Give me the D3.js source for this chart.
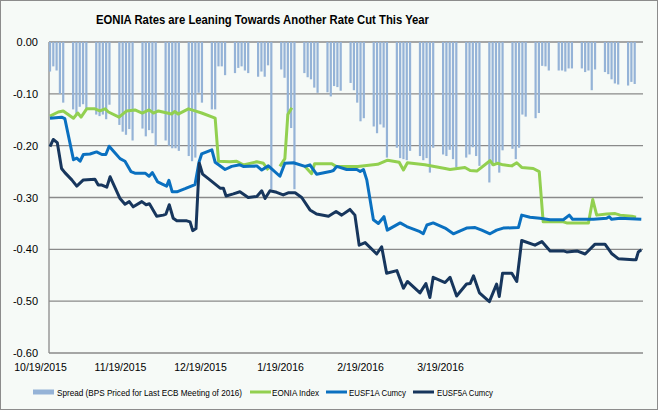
<!DOCTYPE html>
<html><head><meta charset="utf-8">
<script src="https://cdn.jsdelivr.net/npm/d3@7"></script>
<style>body{margin:0;background:#fff}svg{display:block}</style>
</head><body><svg id="c" width="658" height="410"></svg>
<script>
const chartTitle = "EONIA Rates are Leaning Towards Another Rate Cut This Year";
const xTickLabels = ["10/19/2015","11/19/2015","12/19/2015","1/19/2016","2/19/2016","3/19/2016"];
const yTicks = [0, -0.1, -0.2, -0.3, -0.4, -0.5, -0.6];
const legendNames = ["Spread (BPS Priced for Last ECB Meeting of 2016)", "EONIA Index", "EUSF1A Cumcy", "EUSF5A Cumcy"];

// Spread bars: one row per week (Mon..Fri), starting Monday 10/19/2015
const spreadWeeks = [
  [-0.057,-0.047,-0.055,-0.100,-0.117],
  [-0.130,-0.140,-0.125,-0.120,-0.128],
  [-0.140,-0.143,-0.140,-0.149,-0.121],
  [-0.160,-0.173,-0.179,-0.168,-0.190],
  [-0.167,-0.182,-0.170,-0.176,-0.200],
  [-0.190,-0.200,-0.205,-0.205,-0.210],
  [-0.220,-0.230,-0.223,-0.098,-0.117],
  [-0.130,-0.130,-0.047,-0.047,-0.064],
  [-0.060,-0.050,-0.047,-0.055,-0.060],
  [-0.067,-0.057,-0.067,-0.045,-0.284],
  [-0.053,-0.069,-0.150,-0.166,-0.284],
  [-0.060,-0.068,-0.072,-0.088,-0.098],
  [-0.097,-0.105,-0.085,-0.087,-0.094],
  [-0.079,-0.093,-0.117,-0.153,-0.147],
  [-0.163,-0.176,-0.159,-0.165,-0.223],
  [-0.204,-0.224,-0.226,-0.228,-0.210],
  [-0.220,-0.228,-0.224,-0.252,-0.204],
  [-0.217,-0.220,-0.208,-0.226,-0.242],
  [-0.223,-0.217,-0.203,-0.220,-0.239],
  [-0.271,-0.239,-0.233,-0.252,-0.209],
  [-0.206,-0.226,-0.204,-0.140,-0.144],
  [-0.147,-0.137,-0.046,-0.047,-0.055],
  [-0.055,-0.055,-0.057,-0.051,-0.051],
  [-0.051,-0.058,-0.055,-0.093,-0.053],
  [-0.058,-0.062,-0.072,-0.080,-0.082],
  [-0.084,-0.077,-0.081]
];

// Lines: day offset from 10/19/2015 and value
const eoniaDays = [0,2.5,4,7.1,8.4,9.4,11.1,13.6,15.1,16.7,17.7,20.9,23.2,25.7,27.9,30,31.3,32.8,36.8,37.8,38.8,41.9,43.9,45.9,50,51,54.5,56.5,58.5,62.6,64.6,66.1,67,69.6,71.1,72,73.2,74,77.2,79.2,80.1,85.3,86.6,93.2,99.2,102.2,105.7,107,108.2,113.5,119.6,121.1,125.6,127.2,129.2,133.2,134.2,135.4,137.2,139.8,141.3,142.8,146.3,148.1,149.3,155.4,156.4,163,164.3,165.5,168.5,171.1,172.6,176.1,177.4];
const eoniaVals = [-0.143,-0.135,-0.133,-0.147,-0.137,-0.145,-0.129,-0.129,-0.133,-0.129,-0.135,-0.145,-0.133,-0.131,-0.137,-0.131,-0.137,-0.133,-0.139,-0.134,-0.139,-0.129,-0.133,-0.137,-0.147,-0.230,-0.231,-0.230,-0.237,-0.231,-0.234,-0.247,null,-0.240,-0.225,-0.140,-0.127,null,-0.240,-0.254,-0.235,-0.235,-0.240,-0.240,-0.236,-0.228,-0.232,-0.247,-0.233,-0.237,-0.244,-0.246,-0.242,-0.248,-0.249,-0.229,-0.237,-0.234,-0.237,-0.239,-0.233,-0.242,-0.244,-0.250,-0.347,-0.347,-0.349,-0.349,-0.304,-0.334,-0.332,-0.331,-0.334,-0.336,-0.338];

const eusf1aDays = [0,3.5,4.5,7.1,8.1,9.1,10.1,12.1,14.1,15.7,16.9,17.9,19.7,21.2,22.7,24.5,25.7,28.8,30,31,32.6,34.3,35.3,36,37,38.4,40.9,43.9,45.1,45.9,49,50,53,55,57.5,58.5,62.6,64.1,66.1,69.6,71.1,73.7,77.2,78.7,80.7,84.8,85.8,86.8,89.8,92.9,93.9,94.9,95.9,97.9,99.4,101.1,102.1,106,108,112,113,114.1,116,119.6,122.1,126.1,128.7,130.7,133.2,135.2,137.2,141.8,142.8,145.3,148.3,151.4,155.4,157.2,158.2,164.5,168.5,169.3,170,172.6,179];
const eusf1aVals = [-0.147,-0.145,-0.148,-0.227,-0.224,-0.230,-0.217,-0.216,-0.212,-0.217,-0.217,-0.201,-0.214,-0.225,-0.230,-0.250,-0.253,-0.253,-0.259,-0.252,-0.270,-0.275,-0.278,-0.267,-0.289,-0.289,-0.283,-0.275,-0.232,-0.216,-0.208,-0.232,-0.246,-0.240,-0.237,-0.240,-0.239,-0.247,-0.239,-0.259,-0.234,-0.233,-0.240,-0.237,-0.255,-0.250,-0.248,-0.240,-0.246,-0.246,-0.250,-0.246,-0.266,-0.343,-0.350,-0.337,-0.363,-0.349,-0.356,-0.366,-0.370,-0.353,-0.349,-0.359,-0.370,-0.359,-0.358,-0.363,-0.370,-0.363,-0.359,-0.358,-0.334,-0.338,-0.340,-0.343,-0.343,-0.334,-0.342,-0.342,-0.340,-0.337,-0.342,-0.340,-0.342];

const eusf5aDays = [0,1,2.2,3.5,4.5,6.6,8.1,10.1,13.6,14.6,15.7,17.2,18.2,21.2,22.7,24,25.2,27.8,29.1,30.1,32.3,34.3,35.1,36.1,37.3,38.4,41.4,42.4,43.2,44.2,45.2,46.2,48.4,51.5,52.5,53.3,55.5,57.5,60,62.6,64.1,65.1,66.6,68.6,70.6,72.1,74.2,76.2,78.7,80.7,84.3,86.6,88.3,90.8,92.3,93.6,95.4,98.9,100.4,101.9,105,107,108.2,112,113.8,115,116,119.6,121.1,123.1,126.1,127.2,128.2,130,133,135.2,136,137,139.8,141.3,142.8,146.8,148.9,151.4,155.4,156.4,159.5,162,165,168,170,172,176.6,177.4,178.1,179];
const eusf5aVals = [-0.202,-0.188,-0.194,-0.244,-0.252,-0.266,-0.278,-0.266,-0.265,-0.276,-0.276,-0.280,-0.260,-0.302,-0.313,-0.308,-0.318,-0.308,-0.314,-0.312,-0.336,-0.334,-0.332,-0.314,-0.340,-0.345,-0.345,-0.347,-0.364,-0.360,-0.234,-0.255,-0.266,-0.282,-0.282,-0.297,-0.293,-0.289,-0.300,-0.298,-0.287,-0.302,-0.287,-0.290,-0.295,-0.291,-0.291,-0.300,-0.324,-0.332,-0.336,-0.327,-0.334,-0.323,-0.334,-0.392,-0.387,-0.409,-0.395,-0.446,-0.441,-0.475,-0.462,-0.484,-0.466,-0.493,-0.454,-0.464,-0.454,-0.490,-0.467,-0.466,-0.451,-0.484,-0.501,-0.467,-0.491,-0.446,-0.446,-0.462,-0.383,-0.392,-0.385,-0.403,-0.403,-0.405,-0.403,-0.409,-0.390,-0.390,-0.408,-0.418,-0.420,-0.420,-0.405,-0.401];

const colors = {bg:"#f6faf7", grid:"#8a8a8a", bar:"#95b3d7", eonia:"#92d050", f1:"#0a70c0", f5:"#17365d", text:"#000"};

const svg = d3.select("#c");
svg.append("rect").attr("x",0.5).attr("y",0.5).attr("width",657).attr("height",409)
  .attr("fill",colors.bg).attr("stroke","#8c8c8c");

const x = d3.scaleLinear().domain([0,179]).range([50,641.3]);
const y = d3.scaleLinear().domain([-0.6,0]).range([353,42]);
const xLab = d3.scalePoint().domain(xTickLabels).range([40,440]);

// gridlines
svg.append("g").selectAll("line").data(yTicks).join("line")
  .attr("x1",49).attr("x2",643).attr("y1",d=>y(d)).attr("y2",d=>y(d))
  .attr("stroke",colors.grid).attr("stroke-width",1.3);
svg.append("line").attr("x1",49).attr("x2",49).attr("y1",y(0)).attr("y2",y(-0.6))
  .attr("stroke",colors.grid).attr("stroke-width",1.3);

// bars
const spread = spreadWeeks.flatMap((w,i)=>w.map((v,j)=>({day:i*7+j, v})));
svg.append("g").selectAll("rect").data(spread).join("rect")
  .attr("x",d=>x(d.day)-1.1).attr("width",2.2)
  .attr("y",y(0)).attr("height",d=>y(d.v)-y(0))
  .attr("fill",colors.bar);

// lines
function drawLine(days, vals, color){
  const pts = days.map((d,i)=>({d, v:vals[i]}));
  const line = d3.line().defined(p=>p.v!==null).x(p=>x(p.d)).y(p=>y(p.v));
  svg.append("path").datum(pts).attr("d",line).attr("fill","none")
    .attr("stroke",color).attr("stroke-width",3).attr("stroke-linejoin","round");
}
drawLine(eoniaDays, eoniaVals, colors.eonia);
drawLine(eusf1aDays, eusf1aVals, colors.f1);
drawLine(eusf5aDays, eusf5aVals, colors.f5);

// axes
const fontFam = "'Liberation Sans', Arial, sans-serif";
const yAxis = svg.append("g").attr("transform","translate(49,0)")
  .call(d3.axisLeft(y).tickValues(yTicks).tickSize(0).tickPadding(11).tickFormat(d=>d.toFixed(2)));
yAxis.select(".domain").remove();
yAxis.selectAll("text").attr("font-family",fontFam).attr("font-size","11px").attr("fill",colors.text);

const xAxis = svg.append("g").attr("transform","translate(0,364)")
  .call(d3.axisBottom(xLab).tickSize(0).tickPadding(0));
xAxis.select(".domain").remove();
xAxis.selectAll("text").attr("font-family",fontFam).attr("font-size","10.5px").attr("fill",colors.text);

// title
svg.append("text").attr("x",262.5).attr("y",24).attr("text-anchor","middle")
  .attr("font-family",fontFam).attr("font-weight","bold").attr("font-size","13px")
  .attr("textLength",333).attr("lengthAdjust","spacingAndGlyphs").text(chartTitle);

// legend
const legendItems = [
  {name:legendNames[0], type:"bar", color:colors.bar, sx:33, tx:57, tw:185},
  {name:legendNames[1], type:"line", color:colors.eonia, sx:250, tx:272, tw:47},
  {name:legendNames[2], type:"line", color:colors.f1, sx:326, tx:349, tw:57},
  {name:legendNames[3], type:"line", color:colors.f5, sx:413, tx:437, tw:56}
];
const lg = svg.append("g");
legendItems.forEach(it=>{
  if(it.type==="bar"){
    lg.append("rect").attr("x",it.sx).attr("y",389.5).attr("width",21).attr("height",5).attr("fill",it.color);
  } else {
    lg.append("rect").attr("x",it.sx).attr("y",390.5).attr("width",21).attr("height",3).attr("fill",it.color);
  }
  lg.append("text").attr("x",it.tx).attr("y",395.5).attr("font-family",fontFam).attr("font-size","9px")
    .attr("textLength",it.tw).attr("lengthAdjust","spacingAndGlyphs").text(it.name);
});
</script></body></html>
